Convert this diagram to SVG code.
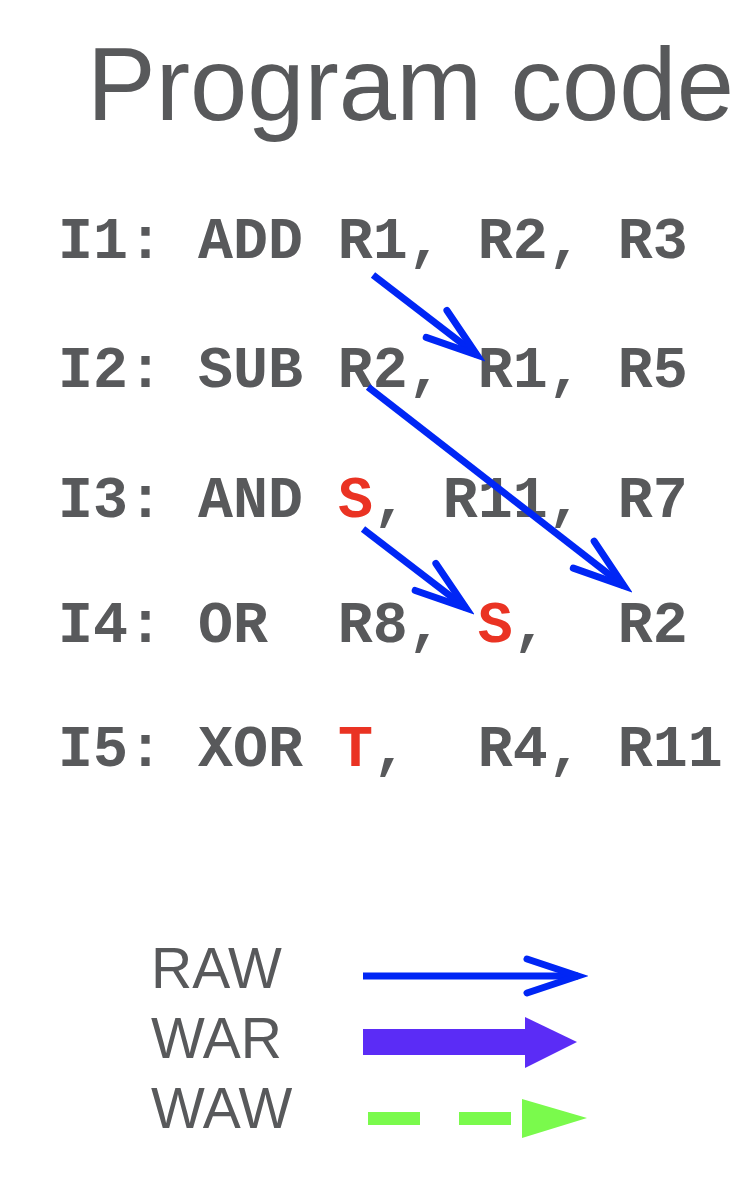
<svg xmlns="http://www.w3.org/2000/svg" width="752" height="1202" viewBox="0 0 752 1202">
<style>
.title{font-family:"Liberation Sans",Arial,sans-serif;font-size:103px;fill:#58595b}
.code{font-family:"Liberation Mono","Courier New",monospace;font-weight:bold;font-size:58.3px;fill:#58595b;white-space:pre}
.red{fill:#ea3323}
.leg{font-family:"Liberation Sans",Arial,sans-serif;font-size:57px;fill:#58595b}
.raw{stroke:#0026f5;stroke-width:7;fill:none}
</style>
<defs>
<marker id="chev" markerUnits="userSpaceOnUse" viewBox="-60 -26 70 52" markerWidth="70" markerHeight="52" refX="0" refY="0" orient="auto">
<path d="M-51,-17 L0,0 L-51,17" fill="none" stroke="#0026f5" stroke-width="7" stroke-linecap="round" stroke-linejoin="miter"/>
</marker>
</defs>
<rect width="752" height="1202" fill="#fff"/>
<g id="title"><text class="title" x="87" y="120">Program code</text></g>
<g id="I1"><text class="code" x="58" y="258">I1: ADD R1, R2, R3</text></g>
<g id="I2"><text class="code" x="58" y="387">I2: SUB R2, R1, R5</text></g>
<g id="I3"><text class="code" x="58" y="517">I3: AND <tspan class="red">S</tspan>, R11, R7</text></g>
<g id="I4"><text class="code" x="58" y="642">I4: OR  R8, <tspan class="red">S</tspan>,  R2</text></g>
<g id="I5"><text class="code" x="58" y="766">I5: XOR <tspan class="red">T</tspan>,  R4, R11</text></g>
<g id="connectors">
<line class="raw" x1="373" y1="275" x2="477" y2="355" marker-end="url(#chev)"/>
<line class="raw" x1="368" y1="387" x2="624" y2="586" marker-end="url(#chev)"/>
<line class="raw" x1="363" y1="529" x2="466" y2="608" marker-end="url(#chev)"/>
</g>
<g id="legend">
<text class="leg" x="151" y="988">RAW</text>
<text class="leg" x="151" y="1058">WAR</text>
<text class="leg" x="151" y="1128">WAW</text>
<line class="raw" x1="363" y1="976" x2="578" y2="976" marker-end="url(#chev)"/>
<rect x="363" y="1029" width="163" height="26" fill="#5b2cf6"/>
<polygon points="525,1017 577,1042 525,1068" fill="#5b2cf6"/>
<rect x="368" y="1112" width="52" height="13" fill="#7afa4c"/>
<rect x="459" y="1112" width="52" height="13" fill="#7afa4c"/>
<polygon points="522,1099 587,1118 522,1138" fill="#7afa4c"/>
</g>
</svg>
